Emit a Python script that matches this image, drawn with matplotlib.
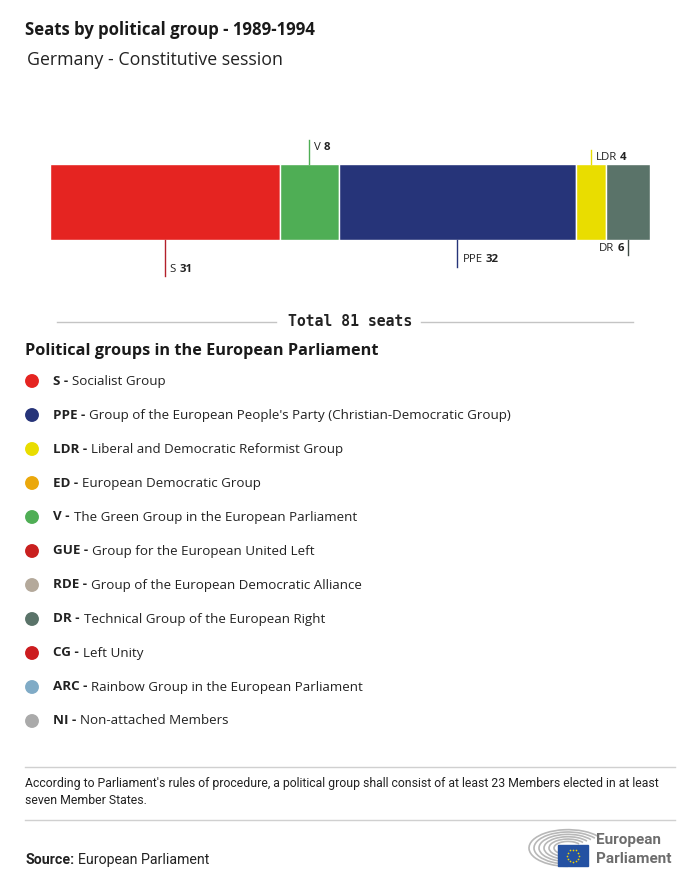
import matplotlib
matplotlib.use('Agg')
import numpy as np
import matplotlib.pyplot as plt
from matplotlib.patches import Arc, Rectangle

plt.rcParams['font.family'] = ['Open Sans', 'DejaVu Sans']

# 横条数据（从左到右）
bar_groups = ['S', 'V', 'PPE', 'LDR', 'DR']
bar_seats = [31, 8, 32, 4, 6]
bar_colors = ['#E52421', '#4FAE55', '#263479', '#E9DD00', '#5A7369']
line_colors = ['#B3202A', '#4FAE55', '#263479', '#E9DD00', '#3E4B45']
label_side = ['down', 'up', 'down', 'up', 'down']
label_len = [36, 24, 27, 14, 15]  # 引线长度 px
label_align = ['left', 'left', 'left', 'left', 'right']

# 图例数据
legend_codes = ['S', 'PPE', 'LDR', 'ED', 'V', 'GUE', 'RDE', 'DR', 'CG', 'ARC', 'NI']
legend_names = ['Socialist Group',
                "Group of the European People's Party (Christian-Democratic Group)",
                'Liberal and Democratic Reformist Group',
                'European Democratic Group',
                'The Green Group in the European Parliament',
                'Group for the European United Left',
                'Group of the European Democratic Alliance',
                'Technical Group of the European Right',
                'Left Unity',
                'Rainbow Group in the European Parliament',
                'Non-attached Members']
legend_colors = ['#E52421', '#263479', '#E9DD00', '#EBA80B', '#4FAE55', '#C9201F',
                 '#B4A99B', '#5A7369', '#CC1C1F', '#80ABC6', '#AAAAAA']

total = sum(bar_seats)
W, H = 700, 886

fig = plt.figure(figsize=(7, 8.86), dpi=100)
fig.patch.set_facecolor('white')

# 横条坐标轴
bax = fig.add_axes([50 / W, 1 - 240 / H, 600 / W, 76 / H])
left = np.concatenate([[0], np.cumsum(bar_seats)[:-1]])
bax.barh(0, bar_seats, left=left, height=1, color=bar_colors, edgecolor='white', linewidth=1)
bax.set_xlim(0, total)
bax.set_ylim(-0.5, 0.5)
bax.axis('off')

# 覆盖层，像素坐标
ax = fig.add_axes([0, 0, 1, 1], zorder=5)
ax.set_xlim(0, W)
ax.set_ylim(H, 0)
ax.axis('off')
ax.patch.set_visible(False)

renderer = fig.canvas.get_renderer()


def text_width(s, size, weight, family=None):
    t = ax.text(0, 0, s, fontsize=size, fontweight=weight, family=family)
    w = t.get_window_extent(renderer).width
    t.remove()
    return w


def rich(x, y, parts, size, ha='left', color='#222222', gap=4, family=None):
    widths = [text_width(s, size, wt, family) for s, wt in parts]
    tot = sum(widths) + gap * (len(parts) - 1)
    if ha == 'right':
        x -= tot
    elif ha == 'center':
        x -= tot / 2
    for (s, wt), w in zip(parts, widths):
        ax.text(x, y, s, fontsize=size, fontweight=wt, color=color, va='center',
                ha='left', family=family)
        x += w + gap
    return tot


def to_pixel(xd, yd):
    px, py = bax.transData.transform((xd, yd))
    return px, H - py


# 引线和标签
for i, g in enumerate(bar_groups):
    cx = left[i] + bar_seats[i] / 2
    px, _ = to_pixel(cx, 0)
    if label_side[i] == 'up':
        y0 = 164
        y1 = y0 - label_len[i]
        ty = y1 + 7
    else:
        y0 = 240
        y1 = y0 + label_len[i]
        ty = y1 - 7
    ax.plot([px, px], [y0, y1], color=line_colors[i], lw=1)
    parts = [(g, 'normal'), (str(bar_seats[i]), 'bold')]
    if label_align[i] == 'left':
        rich(px + 5, ty, parts, 8.2, gap=3)
    else:
        rich(px - 4, ty, parts, 8.2, ha='right', gap=3)

# 标题
ax.text(25, 30, 'Seats by political group - 1989-1994', fontsize=12.1, fontweight='bold',
        color='#1a1a1a', va='center')
ax.text(27, 60, 'Germany - Constitutive session', fontsize=12.8, color='#222222', va='center')

# 总数
tw = rich(350, 322, [('Total %d seats' % total, 'bold')], 10.6, ha='center',
          family=['DejaVu Sans Mono'])
ax.plot([57, 350 - tw / 2 - 12], [322, 322], color='#c4c4c4', lw=1)
ax.plot([350 + tw / 2 + 9, 633], [322, 322], color='#c4c4c4', lw=1)

# 图例
ax.text(25, 351, 'Political groups in the European Parliament', fontsize=11.7,
        fontweight='bold', color='#1a1a1a', va='center')
ys = 381 + 34 * np.arange(len(legend_codes))
ax.scatter([32] * len(ys), ys, s=100, c=legend_colors, linewidths=0)
for y, code, name in zip(ys, legend_codes, legend_names):
    rich(53, y, [(code + ' -', 'bold'), (name, 'normal')], 9.65, gap=4)

# 脚注
ax.plot([25, 675], [767, 767], color='#d0d0d0', lw=1)
ax.plot([25, 675], [820, 820], color='#d0d0d0', lw=1)
foot_font = ['Roboto', 'DejaVu Sans']
ax.text(25, 784, "According to Parliament's rules of procedure, a political group shall consist of at least 23 Members elected in at least",
        fontsize=8.8, color='#222222', va='center', family=foot_font)
ax.text(25, 801, 'seven Member States.', fontsize=8.8, color='#222222', va='center',
        family=foot_font)
rich(25, 860, [('Source:', 'bold'), ('European Parliament', 'normal')], 10.2, gap=4,
     family=foot_font)

# 标志
for r in range(14, 44, 5):
    ax.add_patch(Arc((568, 848), 2 * r, 2 * r * 0.47, theta1=90, theta2=340,
                     color='#b8b8b8', lw=1.2))
ax.add_patch(Rectangle((558, 845), 30, 21, color='#2451A2', zorder=6))
ang = np.linspace(0, 2 * np.pi, 13)[:-1]
ax.scatter(573 + 6 * np.cos(ang), 855.5 + 6 * np.sin(ang), s=1.5, c='#F4D300', zorder=7,
           linewidths=0)
ax.text(596, 840, 'European', fontsize=11, fontweight='bold', color='#6d6d6d', va='center',
        family=foot_font)
ax.text(596, 859, 'Parliament', fontsize=11, fontweight='bold', color='#6d6d6d', va='center',
        family=foot_font)

plt.savefig('out.png', dpi=100, facecolor='white')
